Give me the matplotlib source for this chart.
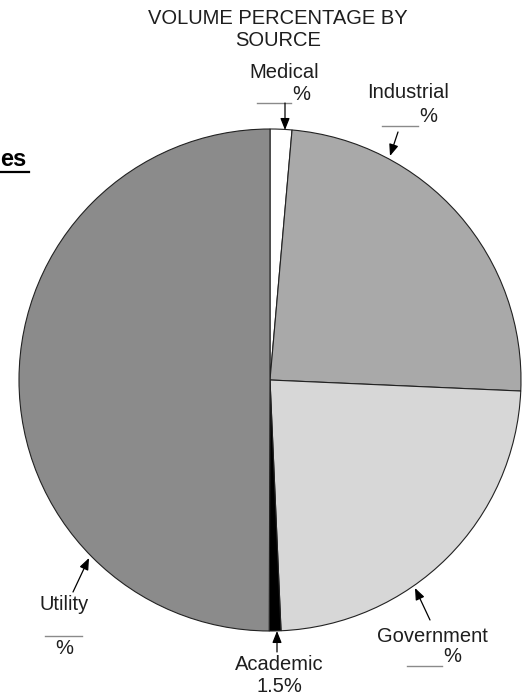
import matplotlib
matplotlib.use('Agg')
import matplotlib.pyplot as plt

# ---- data ----
sources = ['Medical', 'Industrial', 'Government', 'Academic', 'Utility']
shares = [1.4, 24.3, 23.6, 0.75, 49.95]
value_texts = ['%', '%', '%', '1.5%', '%']
title_lines = ['VOLUME PERCENTAGE BY', 'SOURCE']
colors = ['#ffffff', '#a9a9a9', '#d7d7d7', '#000000', '#8b8b8b']

W, H = 528, 695
plt.rcParams['font.family'] = ['Liberation Sans', 'DejaVu Sans']
fig = plt.figure(figsize=(W / 100, H / 100), dpi=100)
ax = fig.add_axes([0, 0, 1, 1])


def Y(y):
    return H - y


cx, cy, r = 270, 380, 251
ax.pie(shares, colors=colors, startangle=90, counterclock=False,
       center=(cx, Y(cy)), radius=r,
       wedgeprops=dict(edgecolor='#222222', linewidth=0.8))
ax.set_xlim(0, W)
ax.set_ylim(0, H)
ax.set_aspect('equal')
ax.axis('off')

tc = '#1e1e1e'
fs = 14.5
ax.text(278, Y(19), title_lines[0], ha='center', va='center', fontsize=fs, color=tc)
ax.text(278, Y(41), title_lines[1], ha='center', va='center', fontsize=fs, color=tc)

# left cut-off heading fragment
ax.text(0, Y(159), 'es', ha='left', va='center', fontsize=17, fontweight='bold', color='black')
ax.plot([0, 29], [Y(172), Y(172)], color='black', lw=1.6)

arrow = dict(arrowstyle='-|>,head_length=0.7,head_width=0.28', color='black',
             lw=0.9, shrinkA=0, shrinkB=0)
line_c = '#8a8a8a'

# Medical
ax.text(284, Y(72), sources[0], ha='center', va='center', fontsize=fs, color=tc)
ax.text(301, Y(94), value_texts[0], ha='center', va='center', fontsize=fs, color=tc)
ax.plot([257, 291], [Y(103), Y(103)], color=line_c, lw=1)
ax.annotate('', xy=(285, Y(130)), xytext=(285, Y(103)), arrowprops=arrow)

# Industrial
ax.text(408, Y(93), sources[1], ha='center', va='center', fontsize=fs, color=tc)
ax.text(428, Y(116), value_texts[1], ha='center', va='center', fontsize=fs, color=tc)
ax.plot([382, 418], [Y(126), Y(126)], color=line_c, lw=1)
ax.annotate('', xy=(390, Y(156)), xytext=(398, Y(132)), arrowprops=arrow)

# Government
ax.text(432, Y(636), sources[2], ha='center', va='center', fontsize=fs, color=tc)
ax.text(452, Y(657), value_texts[2], ha='center', va='center', fontsize=fs, color=tc)
ax.plot([407, 442], [Y(666), Y(666)], color=line_c, lw=1)
ax.annotate('', xy=(415, Y(588)), xytext=(430, Y(620)), arrowprops=arrow)

# Academic
ax.text(279, Y(665), sources[3], ha='center', va='center', fontsize=fs, color=tc)
ax.text(279, Y(686), value_texts[3], ha='center', va='center', fontsize=fs, color=tc)
ax.annotate('', xy=(277, Y(631)), xytext=(277, Y(652)), arrowprops=arrow)

# Utility
ax.text(64, Y(604), sources[4], ha='center', va='center', fontsize=fs, color=tc)
ax.plot([45, 82], [Y(636), Y(636)], color=line_c, lw=1)
ax.text(64, Y(648), value_texts[4], ha='center', va='center', fontsize=fs, color=tc)
ax.annotate('', xy=(89, Y(558)), xytext=(73, Y(592)), arrowprops=arrow)

fig.savefig('out.png', dpi=100)
